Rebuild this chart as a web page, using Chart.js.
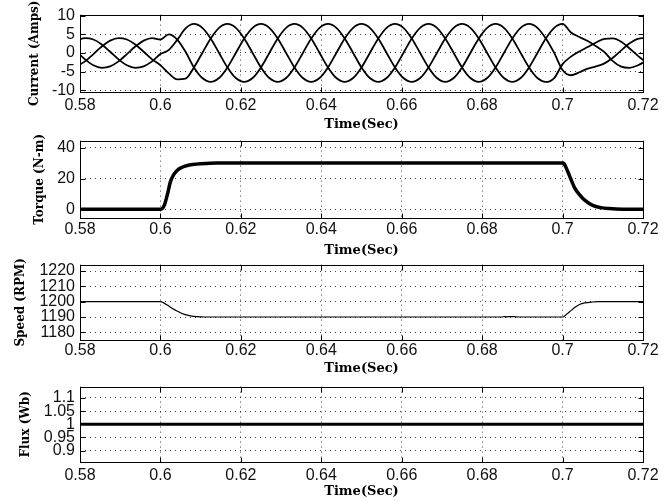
<!DOCTYPE html>
<html>
<head>
<meta charset="utf-8">
<script src="https://cdn.jsdelivr.net/npm/chart.js@4.4.0/dist/chart.umd.min.js"></script>
<style>
  html, body { margin: 0; padding: 0; background: #fff; }
  #wrap { position: relative; width: 672px; height: 501px; overflow: hidden; background: #fff; }
  canvas { position: absolute; left: 0; }
</style>
</head>
<body>
<div id="wrap">
  <canvas id="cCurrent"></canvas>
  <canvas id="cTorque"></canvas>
  <canvas id="cSpeed"></canvas>
  <canvas id="cFlux"></canvas>
</div>
<script>
// tick labels
const timeTicks = [0.58, 0.6, 0.62, 0.64, 0.66, 0.68, 0.7, 0.72];
const currentTicks = [-10, -5, 0, 5, 10];
const torqueTicks = [0, 20, 40];
const speedTicks = [1180, 1190, 1200, 1210, 1220];
const fluxTicks = [0.9, 0.95, 1, 1.05, 1.1];

// stator currents (A), three phases
const currentTime = [
  0.57917, 0.58125, 0.58333, 0.58542, 0.5875, 0.58958, 0.59167, 0.59375, 0.59583, 0.59792,
  0.6, 0.60208, 0.60417, 0.60625, 0.60833, 0.61042, 0.6125, 0.61458, 0.61667, 0.61875,
  0.62083, 0.62292, 0.625, 0.62708, 0.62917, 0.63125, 0.63333, 0.63542, 0.6375, 0.63958,
  0.64167, 0.64375, 0.64583, 0.64792, 0.65, 0.65208, 0.65417, 0.65625, 0.65833, 0.66042,
  0.6625, 0.66458, 0.66667, 0.66875, 0.67083, 0.67292, 0.675, 0.67708, 0.67917, 0.68125,
  0.68333, 0.68542, 0.6875, 0.68958, 0.69167, 0.69375, 0.69583, 0.69792, 0.7, 0.70208,
  0.70417, 0.70625, 0.70833, 0.71042, 0.7125, 0.71458, 0.71667, 0.71875, 0.72083
];
const phaseA = [
  0.31, -1.72, -3.30, -3.99, -3.61, -2.27, -0.31, 1.72, 3.30, 3.99,
  3.61, 5.0, 3.6, 0.3, -3.9, -6.75, -7.8, -6.75, -3.9, 0,
  3.9, 6.75, 7.8, 6.75, 3.9, 0, -3.9, -6.75, -7.8, -6.75,
  -3.9, 0, 3.9, 6.75, 7.8, 6.75, 3.9, 0, -3.9, -6.75,
  -7.8, -6.75, -3.9, 0, 3.9, 6.75, 7.8, 6.75, 3.9, 0,
  -3.9, -6.75, -7.8, -6.75, -3.9, 0, 3.9, 6.75, 7.8, 5.5,
  4.3, 3.2, 1.8, 0.2, -2.2, -3.7, -4.0, -3.3, -2.1
];
const phaseB = [
  3.30, 3.99, 3.61, 2.27, 0.31, -1.72, -3.30, -3.99, -3.61, -2.27,
  -0.31, 0.8, 3.5, 6.6, 7.8, 6.75, 3.9, 0, -3.9, -6.75,
  -7.8, -6.75, -3.9, 0, 3.9, 6.75, 7.8, 6.75, 3.9, 0,
  -3.9, -6.75, -7.8, -6.75, -3.9, 0, 3.9, 6.75, 7.8, 6.75,
  3.9, 0, -3.9, -6.75, -7.8, -6.75, -3.9, 0, 3.9, 6.75,
  7.8, 6.75, 3.9, 0, -3.9, -6.75, -7.8, -6.75, -3.0, -1.0,
  0.4, 1.6, 2.8, 3.8, 3.9, 3.0, 1.2, -0.8, -2.6
];
const phaseC = [
  -3.61, -2.27, -0.31, 1.72, 3.30, 3.99, 3.61, 2.27, 0.31, -1.72,
  -3.30, -5.5, -7.1, -6.9, -3.9, 0, 3.9, 6.75, 7.8, 6.75,
  3.9, 0, -3.9, -6.75, -7.8, -6.75, -3.9, 0, 3.9, 6.75,
  7.8, 6.75, 3.9, 0, -3.9, -6.75, -7.8, -6.75, -3.9, 0,
  3.9, 6.75, 7.8, 6.75, 3.9, 0, -3.9, -6.75, -7.8, -6.75,
  -3.9, 0, 3.9, 6.75, 7.8, 6.75, 3.9, 0, -4.6, -6.0,
  -5.2, -4.2, -3.6, -2.8, -1.3, 0.7, 2.6, 3.8, 4.0
];

// electromagnetic torque (N-m)
const torqueTime = [0.58, 0.6, 0.6004, 0.601, 0.6017, 0.6025, 0.6033, 0.6042, 0.6054, 0.6067, 0.608, 0.61, 0.614,
  0.7, 0.7004, 0.7012, 0.702, 0.703, 0.7042, 0.7055, 0.7075, 0.7095, 0.7117, 0.715, 0.72];
const torque = [0.2, 0.2, 0.5, 3, 9.4, 18, 22.5, 25.4, 27.3, 28.4, 29, 29.5, 30,
  30, 29.5, 25, 20, 14, 9.6, 6, 2.6, 1.2, 0.6, 0.2, 0.1];

// rotor speed (RPM)
const speedTime = [0.58, 0.6, 0.6008, 0.6017, 0.6025, 0.6033, 0.6042, 0.605, 0.6058, 0.6067, 0.6075, 0.609, 0.611,
  0.685, 0.6855, 0.686, 0.687, 0.688, 0.689, 0.7, 0.7004, 0.7012, 0.702, 0.703, 0.7042, 0.7055, 0.7075, 0.709, 0.72];
const speed = [1200, 1200, 1199.2, 1197.8, 1196.4, 1195.0, 1193.8, 1192.8, 1191.9, 1191.2, 1190.7, 1190.2, 1190,
  1190, 1190.3, 1190.1, 1190.3, 1190.2, 1190, 1190, 1190.5, 1192.2, 1194, 1196.2, 1198.2, 1199.2, 1199.8, 1200, 1200];

// stator flux (Wb)
const fluxTime = [0.58, 0.6, 0.62, 0.64, 0.66, 0.68, 0.7, 0.72];
const flux = [1, 1, 1, 1, 1, 1, 1, 1];

const tickFont = { family: 'Liberation Sans, Arial, sans-serif', size: 16 };
const xTitleFont = { family: 'DejaVu Serif, serif', size: 13, weight: 'bold' };
const yTitleFont = { family: 'DejaVu Serif, serif', size: 12, weight: 'bold' };

function fmt(v) { return String(Number(v.toFixed(3))); }

function pts(xs, ys) { return xs.map((x, i) => ({ x: x, y: ys[i] })); }

// matlab style box with inner tick marks
const framePlugin = {
  id: 'frame',
  afterDraw(chart) {
    const { ctx, chartArea: a, scales } = chart;
    const l = Math.round(a.left) + 0.5, r = Math.round(a.right) + 0.5;
    const t = Math.round(a.top) + 0.5, b = Math.round(a.bottom) + 0.5;
    ctx.save();
    ctx.strokeStyle = '#000';
    ctx.lineWidth = 1;
    ctx.strokeRect(l, t, r - l, b - t);
    ctx.beginPath();
    scales.x.ticks.forEach(tk => {
      const px = Math.round(scales.x.getPixelForValue(tk.value)) + 0.5;
      ctx.moveTo(px, b); ctx.lineTo(px, b - 5);
      ctx.moveTo(px, t); ctx.lineTo(px, t + 5);
    });
    scales.y.ticks.forEach(tk => {
      const py = Math.round(scales.y.getPixelForValue(tk.value)) + 0.5;
      ctx.moveTo(l, py); ctx.lineTo(l + 5, py);
      ctx.moveTo(r, py); ctx.lineTo(r - 5, py);
    });
    ctx.stroke();
    ctx.restore();
  }
};

function makePlot(id, cfg) {
  const canvas = document.getElementById(id);
  canvas.width = 672;
  canvas.height = cfg.height;
  canvas.style.top = cfg.top + 'px';
  return new Chart(canvas, {
    type: 'line',
    data: { datasets: cfg.datasets },
    options: {
      responsive: false,
      animation: false,
      layout: { padding: { top: cfg.padTop, right: 29, left: 0, bottom: 0 } },
      plugins: { legend: { display: false }, tooltip: { enabled: false } },
      elements: { point: { radius: 0 } },
      scales: {
        x: {
          type: 'linear', min: 0.58, max: 0.72,
          afterBuildTicks: s => { s.ticks = timeTicks.map(v => ({ value: v })); },
          afterFit: s => { s.height = cfg.xAxisH; },
          grid: { color: 'rgba(0,0,0,0.75)', drawTicks: false },
          border: { display: false, dash: [1, 4] },
          ticks: { autoSkip: false, maxRotation: 0, padding: cfg.tickPad, color: '#111', font: tickFont, callback: fmt },
          title: { display: true, text: 'Time(Sec)', color: '#000', font: xTitleFont, padding: { top: 0, bottom: cfg.xTitlePad } }
        },
        y: {
          type: 'linear', min: cfg.yMin, max: cfg.yMax,
          afterBuildTicks: s => { s.ticks = cfg.yTicks.map(v => ({ value: v })); },
          afterFit: s => { s.width = 80; },
          grid: { color: 'rgba(0,0,0,0.75)', drawTicks: false },
          border: { display: false, dash: [1, 4] },
          ticks: { autoSkip: false, padding: 5, color: '#111', font: tickFont, callback: fmt },
          title: { display: true, text: cfg.yTitle, color: '#000', font: yTitleFont, padding: { top: cfg.yTitlePad, bottom: 0 } }
        }
      }
    },
    plugins: [framePlugin]
  });
}

function line(data, width, smooth) {
  return {
    data: data, borderColor: '#000', borderWidth: width, pointRadius: 0,
    cubicInterpolationMode: smooth ? 'monotone' : 'default', tension: 0
  };
}

makePlot('cCurrent', {
  top: 0, height: 134, padTop: 14, xAxisH: 42, tickPad: 4, xTitlePad: 2,
  yMin: -10.5, yMax: 10.3, yTicks: currentTicks, yTitle: 'Current (Amps)', yTitlePad: 28,
  datasets: [
    line(pts(currentTime, phaseA), 1.8, true),
    line(pts(currentTime, phaseB), 1.8, true),
    line(pts(currentTime, phaseC), 1.8, true)
  ]
});

makePlot('cTorque', {
  top: 126, height: 134, padTop: 10, xAxisH: 42, tickPad: 2, xTitlePad: 2,
  yMin: -5.5, yMax: 44.5, yTicks: torqueTicks, yTitle: 'Torque (N-m)', yTitlePad: 33,
  datasets: [line(pts(torqueTime, torque), 3.5, true)]
});

makePlot('cSpeed', {
  top: 250, height: 128, padTop: 8, xAxisH: 38, tickPad: 1, xTitlePad: 2,
  yMin: 1175, yMax: 1224.2, yTicks: speedTicks, yTitle: 'Speed (RPM)', yTitlePad: 14,
  datasets: [line(pts(speedTime, speed), 1.2, true)]
});

makePlot('cFlux', {
  top: 372, height: 129, padTop: 10, xAxisH: 39, tickPad: 4, xTitlePad: 2,
  yMin: 0.857, yMax: 1.143, yTicks: fluxTicks, yTitle: 'Flux (Wb)', yTitlePad: 19,
  datasets: [line(pts(fluxTime, flux), 3, false)]
});
</script>
</body>
</html>
